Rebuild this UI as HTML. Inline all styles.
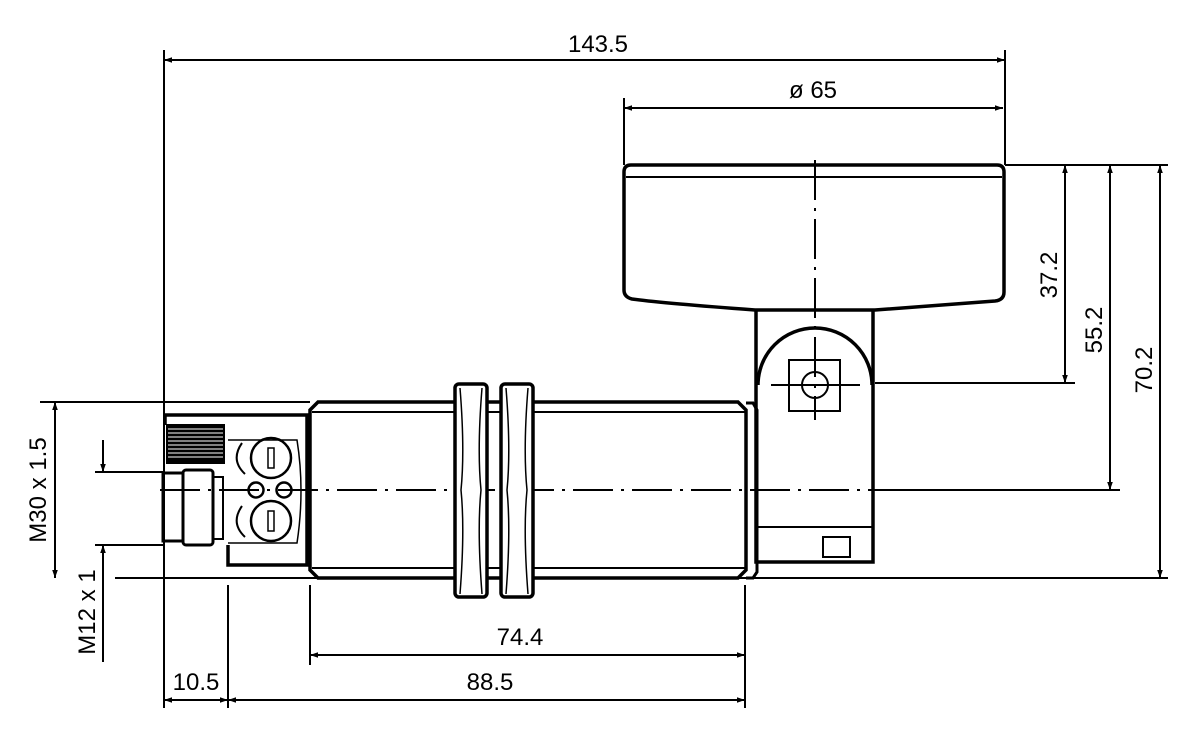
<!DOCTYPE html>
<html><head><style>body{margin:0;background:#fff}svg{display:block}text{font-family:"Liberation Sans",sans-serif;font-size:24px;fill:#000}</style></head><body>
<svg width="1193" height="732" viewBox="0 0 1193 732" xmlns="http://www.w3.org/2000/svg">
<defs><marker id="a" viewBox="0 0 10 10" refX="10" refY="5" markerWidth="22" markerHeight="8" markerUnits="userSpaceOnUse" orient="auto-start-reverse"><path d="M0,1.5L10,5L0,8.5z"/></marker></defs>
<g stroke="#000" fill="none" stroke-width="2">
<line x1="164" y1="50" x2="164" y2="708"/><line x1="1005" y1="50" x2="1005" y2="165"/>
<line x1="624" y1="98" x2="624" y2="165"/>
<line x1="1005" y1="165" x2="1168" y2="165"/>
<line x1="875" y1="383" x2="1075" y2="383"/>
<line x1="905" y1="490" x2="1120" y2="490"/>
<line x1="115" y1="578" x2="1168" y2="578"/>
<line x1="40" y1="402" x2="310" y2="402"/>
<line x1="95" y1="472" x2="165" y2="472"/><line x1="95" y1="545" x2="165" y2="545"/>
<line x1="228" y1="585" x2="228" y2="708"/><line x1="310" y1="585" x2="310" y2="665"/><line x1="745" y1="585" x2="745" y2="708"/>
<line x1="164" y1="60" x2="1005" y2="60" marker-start="url(#a)" marker-end="url(#a)"/>
<line x1="624" y1="108" x2="1003" y2="108" marker-start="url(#a)" marker-end="url(#a)"/>
<line x1="1065" y1="165" x2="1065" y2="383" marker-start="url(#a)" marker-end="url(#a)"/>
<line x1="1110" y1="165" x2="1110" y2="490" marker-start="url(#a)" marker-end="url(#a)"/>
<line x1="1160" y1="165" x2="1160" y2="578" marker-start="url(#a)" marker-end="url(#a)"/>
<line x1="55" y1="402" x2="55" y2="578" marker-start="url(#a)" marker-end="url(#a)"/>
<line x1="103" y1="440" x2="103" y2="472" marker-end="url(#a)"/>
<line x1="103" y1="545" x2="103" y2="662" marker-start="url(#a)"/>
<line x1="310" y1="655" x2="745" y2="655" marker-start="url(#a)" marker-end="url(#a)"/>
<line x1="164" y1="700" x2="228" y2="700" marker-start="url(#a)" marker-end="url(#a)"/>
<line x1="228" y1="700" x2="745" y2="700" marker-start="url(#a)" marker-end="url(#a)"/>
<line x1="160" y1="490" x2="905" y2="490" stroke-dasharray="40,8,3,8"/>
<line x1="815" y1="160" x2="815" y2="420" stroke-dasharray="40,8,3,8"/>
<path d="M624,172Q624,165 631,165H997Q1004,165 1004,172V292Q1004,300 995,301Q900,308 875,310H755Q660,303 632,299Q624,297 624,290Z" stroke-width="3.5"/>
<line x1="626" y1="177" x2="1002" y2="177"/>
<line x1="755" y1="310" x2="875" y2="310" stroke-width="1.5"/>
<path d="M756,310V562H873V310" stroke-width="3.5"/>
<path d="M758,385A57,57 0 0 1 872,385" stroke-width="3.5"/>
<line x1="756" y1="527" x2="873" y2="527"/>
<rect x="823" y="537" width="27" height="20"/>
<rect x="789" y="360" width="51" height="51"/>
<circle cx="815" cy="385" r="13"/>
<line x1="771" y1="385" x2="860" y2="385"/>
<path d="M318,402H738L746,410V570L738,578H318L310,570V410Z" stroke-width="3.5"/>
<line x1="312" y1="412" x2="745" y2="412"/><line x1="312" y1="568" x2="745" y2="568"/>
<path d="M746,403H753L757,410V572L753,578H746" stroke-width="3"/>
<rect x="455" y="384" width="32" height="213" rx="4" fill="#fff" stroke-width="3.5"/>
<rect x="501" y="384" width="32" height="213" rx="4" fill="#fff" stroke-width="3.5"/>
<path d="M460,388Q465,450 461,490Q465,530 460,594M482,388Q477,450 481,490Q477,530 482,594M506,388Q511,450 507,490Q511,530 506,594M528,388Q523,450 527,490Q523,530 528,594" stroke-width="1.5"/>
<path d="M165,425V415H307V565H228V545" stroke-width="3.5"/>
<rect x="167" y="425" width="57" height="38" fill="#000"/>
<g stroke="#fff" stroke-width="1"><line x1="168" y1="429" x2="223" y2="429"/><line x1="168" y1="433" x2="223" y2="433"/><line x1="168" y1="437" x2="223" y2="437"/><line x1="168" y1="441" x2="223" y2="441"/><line x1="168" y1="445" x2="223" y2="445"/><line x1="168" y1="449" x2="223" y2="449"/><line x1="168" y1="453" x2="223" y2="453"/><line x1="168" y1="457" x2="223" y2="457"/></g>
<rect x="163" y="473" width="20" height="68" stroke-width="3"/>
<rect x="183" y="470" width="30" height="75" rx="3" stroke-width="3"/>
<rect x="213" y="477" width="10" height="62" stroke-width="2"/>
<path d="M228,440H297Q305,490 297,543H228" stroke-width="1.5"/>
<circle cx="271" cy="458" r="20" stroke-width="2.5"/><rect x="268" y="448" width="6" height="20" stroke-width="1.5"/>
<circle cx="271" cy="521" r="20" stroke-width="2.5"/><rect x="268" y="511" width="6" height="20" stroke-width="1.5"/>
<circle cx="256" cy="490" r="7.5" stroke-width="2.5"/><circle cx="284" cy="490" r="7.5" stroke-width="2.5"/>
<path d="M242,443Q230,460 245,474M242,506Q230,523 245,537" stroke-width="2"/>
</g>
<text x="598" y="52" text-anchor="middle">143.5</text>
<text x="813" y="98" text-anchor="middle">ø 65</text>
<text x="520" y="645" text-anchor="middle">74.4</text>
<text x="490" y="690" text-anchor="middle">88.5</text>
<text x="196" y="690" text-anchor="middle">10.5</text>
<text transform="translate(1057,275) rotate(-90)" text-anchor="middle">37.2</text>
<text transform="translate(1102,330) rotate(-90)" text-anchor="middle">55.2</text>
<text transform="translate(1152,370) rotate(-90)" text-anchor="middle">70.2</text>
<text transform="translate(46,490) rotate(-90)" text-anchor="middle">M30 x 1.5</text>
<text transform="translate(95,612) rotate(-90)" text-anchor="middle">M12 x 1</text>
</svg>
</body></html>
